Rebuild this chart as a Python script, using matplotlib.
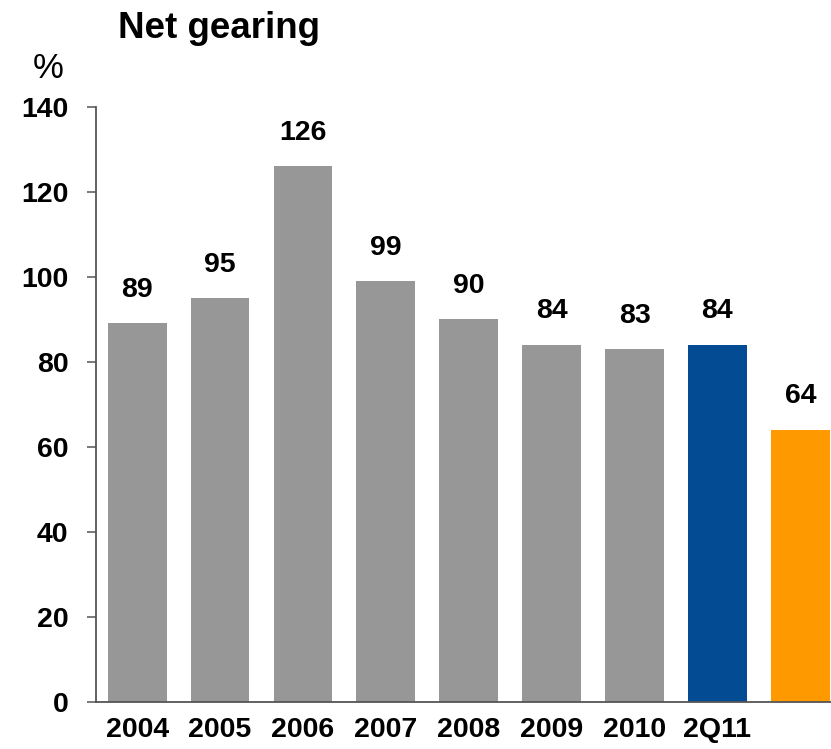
import matplotlib
matplotlib.use("Agg")
import matplotlib.pyplot as plt

# Net gearing, %
categories = ["2004", "2005", "2006", "2007", "2008", "2009", "2010", "2Q11", ""]
values = [89, 95, 126, 99, 90, 84, 83, 84, 64]
bar_colors = ["#979797"] * 7 + ["#034c94", "#fe9900"]
y_ticks = [0, 20, 40, 60, 80, 100, 120, 140]

plt.rcParams["font.family"] = ["Liberation Sans", "DejaVu Sans"]

W, H = 831, 749
fig = plt.figure(figsize=(W / 100, H / 100), dpi=100)
ax = fig.add_axes([95.7 / W, 1 - 701.7 / H, 1 - 95.7 / W, (701.7 - 106.7) / H])

x = list(range(len(values)))
bars = ax.bar(x, values, width=0.71, color=bar_colors, zorder=2)

for xi, v in zip(x, values):
    ax.annotate(str(v), (xi, v), xytext=(0, 24), textcoords="offset points",
                ha="center", va="center", fontsize=20.5, fontweight="bold",
                color="#000000")

ax.set_xlim(-0.5, 8.37)
ax.set_ylim(0, 140)
ax.set_yticks(y_ticks)
ax.set_yticklabels([str(t) for t in y_ticks], fontsize=20.5, fontweight="bold")
ax.set_xticks(x)
ax.set_xticklabels(categories, fontsize=20.5, fontweight="bold")

for side in ("top", "right"):
    ax.spines[side].set_visible(False)
for side in ("left", "bottom"):
    ax.spines[side].set_color("#555555")
    ax.spines[side].set_linewidth(1.3)

ax.tick_params(axis="y", length=6.5, width=1.1, color="#555555", pad=13)
ax.tick_params(axis="x", length=0, pad=11)

fig.text(219 / W, 1 - 28 / H, "Net gearing", ha="center", va="center",
         fontsize=26.5, fontweight="bold")
fig.text(48 / W, 1 - 68 / H, "%", ha="center", va="center", fontsize=25)

fig.savefig("out.png", dpi=100)
